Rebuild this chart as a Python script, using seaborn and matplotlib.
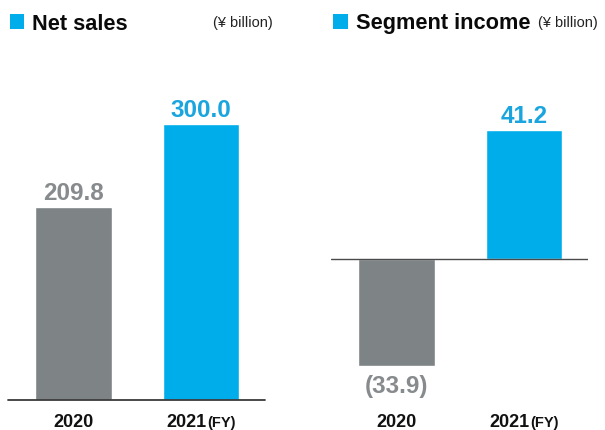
import matplotlib
matplotlib.use("Agg")
import matplotlib.pyplot as plt
import matplotlib.patches as mpatches
import matplotlib.transforms as mtrans
import seaborn as sns
import pandas as pd

sns.set_theme(style="white")
plt.rcParams['font.family'] = ['Liberation Sans', 'DejaVu Sans']

years = ["2020", "2021"]
year_suffix = ["", "(FY)"]
net_sales = [209.8, 300.0]
segment_income = [-33.9, 41.2]
net_sales_labels = ["209.8", "300.0"]
segment_labels = ["(33.9)", "41.2"]
titles = ["Net sales", "Segment income"]
unit = "(¥ billion)"

BLUE = "#00ADEB"
GRAY = "#7E8385"
LBL_GRAY = "#878B8D"
LBL_BLUE = "#1AA5DE"

W, H = 605, 430
fig = plt.figure(figsize=(6.05, 4.30), dpi=100)
fig.patch.set_facecolor("white")

def fx(px):
    return px / W

def fy(py):
    return 1 - py / H

def panel(left_px, values, labels, ylim, title, title_x, unit_x, sq_x, baseline_line):
    ax = fig.add_axes([fx(left_px), fy(400), 257 / W, 340 / H])
    df = pd.DataFrame({"year": years, "value": values})
    sns.barplot(data=df, x="year", y="value", hue="year",
                palette=[GRAY, BLUE], width=0.6, ax=ax, legend=False,
                saturation=1)
    ax.set_xlim(-0.51, 1.5)
    ax.set_ylim(*ylim)
    for s in ax.spines.values():
        s.set_visible(False)
    ax.set_xticks([])
    ax.set_yticks([])
    ax.set_xlabel("")
    ax.set_ylabel("")
    ax.set_facecolor("white")
    if baseline_line == "bottom":
        ax.axhline(ylim[0], color="#3a3a3a", lw=1.3, clip_on=False)
    else:
        ax.axhline(0, color="#4a4a4a", lw=1.0)
    # value labels
    for i, (v, lab) in enumerate(zip(values, labels)):
        col = LBL_BLUE if i == 1 else LBL_GRAY
        if v >= 0:
            ax.annotate(lab, (i, v), xytext=(0, 5.0), textcoords="offset points",
                        ha="center", va="baseline", fontsize=17.5,
                        fontweight="bold", color=col)
        else:
            ax.annotate(lab, (i, v), xytext=(0, -6.5), textcoords="offset points",
                        ha="center", va="top", fontsize=17.5,
                        fontweight="bold", color=col)
    # category labels
    tr = mtrans.blended_transform_factory(ax.transData, fig.transFigure)
    for i, (y, suf) in enumerate(zip(years, year_suffix)):
        if suf:
            ax.text(i + 0.045, fy(427), y, transform=tr, ha="right", va="baseline",
                    fontsize=13, fontweight="bold", color="#111111")
            ax.text(i + 0.045, fy(427), suf, transform=tr, ha="left", va="baseline",
                    fontsize=10.5, fontweight="bold", color="#111111")
        else:
            ax.text(i, fy(427), y, transform=tr, ha="center", va="baseline",
                    fontsize=13, fontweight="bold", color="#111111")
    # title
    fig.patches.append(mpatches.Rectangle((fx(sq_x), fy(29)), 14.5 / W, 15.5 / H,
                                          transform=fig.transFigure,
                                          facecolor=BLUE, edgecolor="none"))
    fig.text(fx(title_x), fy(29.5), title, ha="left", va="baseline",
             fontsize=15.7, fontweight="bold", color="#0a0a0a")
    fig.text(fx(unit_x), fy(27), unit, ha="left", va="baseline",
             fontsize=10.5, color="#222222")
    return ax

panel(8, net_sales, net_sales_labels, (0, 370), titles[0], 31.5, 213, 9.5, "bottom")
panel(331, segment_income, segment_labels, (-44.9, 63.6), titles[1], 355.5, 537.5, 333, "zero")

fig.savefig("out.png", dpi=100, facecolor="white")
